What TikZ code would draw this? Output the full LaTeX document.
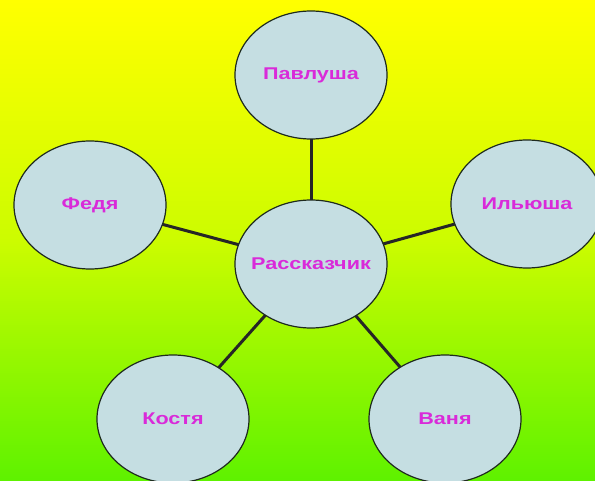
\documentclass[tikz,border=0pt]{standalone}
\usepackage{fontspec}
\setmainfont{Liberation Sans}
\newfontfamily\labelfont{Liberation Sans Bold}[FakeStretch=1.27]
\usetikzlibrary{shapes.geometric,backgrounds}
\definecolor{bgtop}{HTML}{FFFF00}
\definecolor{bgmid}{HTML}{CCFC00}
\definecolor{bgbot}{HTML}{5EF200}
\definecolor{bubblefill}{HTML}{C5DEE2}
\definecolor{bubbleline}{HTML}{1E2A1E}
\definecolor{labelmag}{HTML}{D92AD9}
\pgfdeclareverticalshading{bggrad}{100bp}{
  color(0bp)=(bgbot); color(25bp)=(bgbot); color(50bp)=(bgmid);
  color(75bp)=(bgtop); color(100bp)=(bgtop)}
\newcommand{\bubbletext}[1]{\makebox[0pt]{#1}}
\begin{document}
\begin{tikzpicture}[x=1pt,y=-1pt,
  bubble/.style={ellipse, draw=bubbleline, line width=1.2pt, fill=bubblefill,
    minimum width=152pt, minimum height=128pt, inner sep=0pt,
    font=\labelfont\fontsize{17}{20}\selectfont, text=labelmag},
  link/.style={line width=3pt, draw=black!85}]
\useasboundingbox (0,0) rectangle (595,481);
\begin{scope}[on background layer]
  \shade[shading=bggrad] (0,0) rectangle (595,481);
\end{scope}
\clip (0,0) rectangle (595,481);
\node[bubble] (pav) at (311,75) {\bubbletext{Павлуша}};
\node[bubble] (fed) at (90,205) {\bubbletext{Федя}};
\node[bubble] (ily) at (527,204) {\bubbletext{Ильюша}};
\node[bubble] (ras) at (311,264) {\bubbletext{Рассказчик}};
\node[bubble] (kos) at (173,419) {\bubbletext{Костя}};
\node[bubble] (van) at (445,419) {\bubbletext{Ваня}};
\begin{scope}[on background layer]
  \draw[link] (ras.center) -- (pav.center);
  \draw[link] (ras.center) -- (fed.center);
  \draw[link] (ras.center) -- (ily.center);
  \draw[link] (ras.center) -- (kos.center);
  \draw[link] (ras.center) -- (van.center);
\end{scope}
\end{tikzpicture}
\end{document}
